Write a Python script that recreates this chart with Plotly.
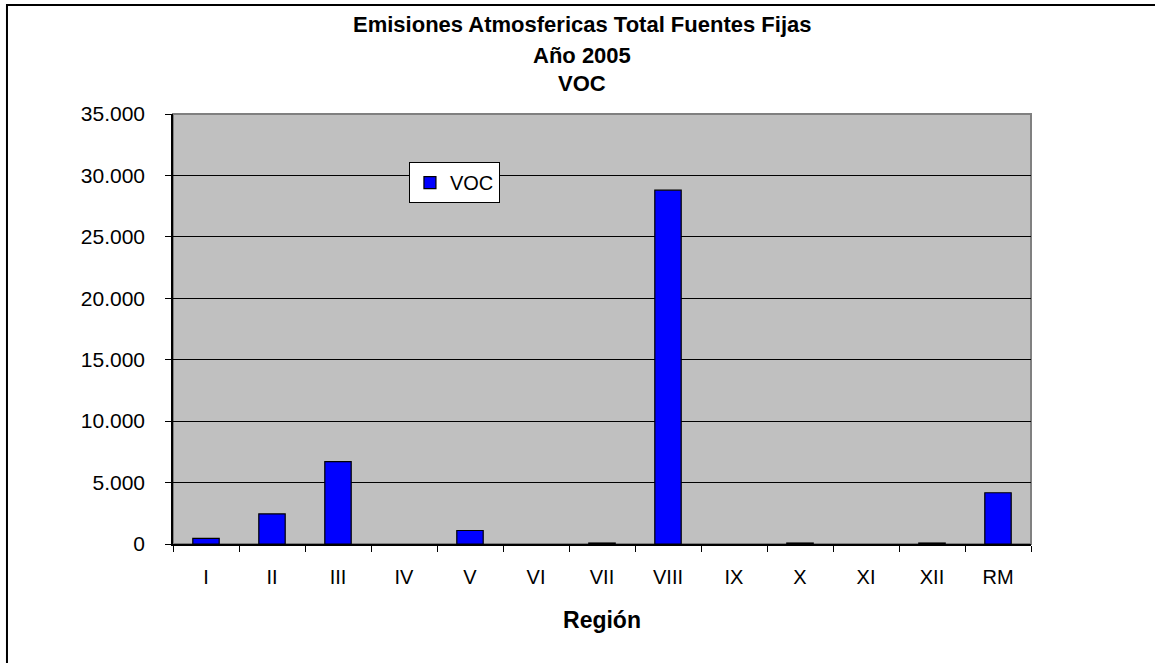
import plotly.graph_objects as go

regiones = ["I", "II", "III", "IV", "V", "VI", "VII", "VIII", "IX", "X", "XI", "XII", "RM"]
# Regions without reported emissions are left empty (None)
voc = [460, 2450, 6700, None, 1100, None, 80, 28800, None, 80, None, 80, 4170]

titulo = ["Emisiones Atmosfericas Total Fuentes Fijas", "Año 2005", "VOC"]
y_ticks = [0, 5000, 10000, 15000, 20000, 25000, 30000, 35000]

FONT = "Liberation Sans, Arial, sans-serif"

fig = go.Figure()
fig.add_trace(go.Bar(
    x=regiones, y=voc, name="VOC",
    marker=dict(color="#0000FF", line=dict(color="#000000", width=1.2)),
    width=0.4,
))

annotations = []
for txt, ypos in zip(titulo, [1.207, 1.137, 1.072]):
    annotations.append(dict(
        text=f"<b>{txt}</b>", x=0.4767, y=ypos, xref="paper", yref="paper",
        showarrow=False, xanchor="center", yanchor="middle",
        font=dict(family=FONT, size=22, color="#000000"),
    ))

fig.update_layout(
    width=1155, height=663,
    margin=dict(l=173, r=124, t=114, b=119),
    paper_bgcolor="#FFFFFF",
    plot_bgcolor="#C0C0C0",
    separators=",.",
    font=dict(family=FONT, size=20, color="#000000"),
    bargap=0.6,
    showlegend=True,
    legend=dict(
        x=0.275, y=0.888, xanchor="left", yanchor="top",
        bgcolor="#FFFFFF", bordercolor="#000000", borderwidth=1,
        font=dict(family=FONT, size=20), itemwidth=30,
    ),
    annotations=annotations,
    shapes=[
        dict(type="rect", xref="paper", yref="paper", x0=0, x1=1, y0=0, y1=1,
             line=dict(color="#808080", width=2), layer="below"),
        dict(type="rect", xref="paper", yref="paper", x0=-0.1935, x1=1.2,
             y0=-0.3, y1=1.2535, line=dict(color="#000000", width=2)),
    ],
)

fig.update_xaxes(
    type="category", tickson="boundaries", ticks="outside", ticklen=6,
    tickcolor="#000000", showline=True, linecolor="#000000", linewidth=1.5,
    showgrid=False, ticklabelstandoff=14,
    title=dict(text="<b>Región</b>", font=dict(family=FONT, size=23), standoff=25),
)
fig.update_yaxes(
    range=[0, 35000], tickvals=y_ticks, tickformat=",d",
    tickfont=dict(size=21),
    ticks="outside", ticklen=6, tickcolor="#000000",
    showline=True, linecolor="#000000", linewidth=1.5,
    showgrid=True, gridcolor="#000000", gridwidth=1.2,
    zeroline=False, ticklabelstandoff=16,
)

fig.write_html("out.html")
